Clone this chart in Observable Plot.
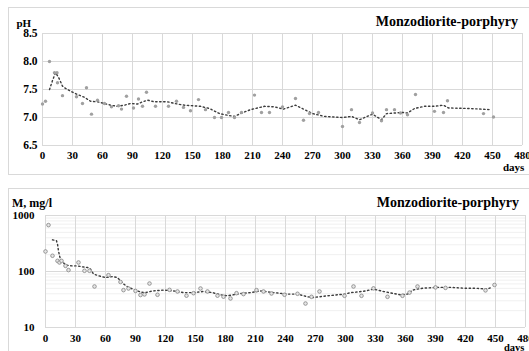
<!DOCTYPE html>
<html>
<head>
<meta charset="utf-8">
<script src="https://cdn.jsdelivr.net/npm/d3@7"></script>
<script src="https://cdn.jsdelivr.net/npm/@observablehq/plot@0.6"></script>
<style>
  html, body { margin: 0; padding: 0; background: #fff; }
  #wrap { position: relative; width: 529px; height: 351px; overflow: hidden; background: #fff; }
  .box { position: absolute; border: 1px solid #d9d9d9; box-sizing: border-box; }
  #wrap svg { position: absolute; left: 0; }
</style>
</head>
<body>
<div id="wrap">
  <div class="box" style="left:8px; top:7px; width:540px; height:168px;"></div>
  <div class="box" style="left:8px; top:188px; width:540px; height:200px;"></div>
</div>
<script>
// ---- data ----
const xTicks = [0, 30, 60, 90, 120, 150, 180, 210, 240, 270, 300, 330, 360, 390, 420, 450, 480];
const phTicks = [6.5, 7.0, 7.5, 8.0, 8.5];
const mTicks = [10, 100, 1000];
const mMinorTicks = [20, 30, 40, 50, 60, 70, 80, 90, 200, 300, 400, 500, 600, 700, 800, 900];

const phDays = [0, 3, 7, 12, 14.5, 15, 20, 34, 40, 44, 49, 55, 62, 69, 76, 79, 84, 91, 96, 100, 104, 113, 126, 134, 141, 148, 156, 163, 172, 179, 186, 192, 199, 212, 219, 227, 240, 253, 261, 267, 276, 300, 309, 317, 330, 339, 344, 352, 358, 365, 373, 392, 401, 405, 441, 451];
const phValues = [7.24, 7.29, 8.0, 7.8, 7.8, 7.62, 7.39, 7.37, 7.25, 7.53, 7.06, 7.31, 7.25, 7.19, 7.21, 7.15, 7.38, 7.17, 7.33, 7.2, 7.45, 7.2, 7.2, 7.29, 7.18, 7.12, 7.32, 7.14, 7.0, 7.0, 7.09, 7.0, 7.09, 7.4, 7.09, 7.09, 7.19, 7.34, 6.95, 7.07, 7.09, 6.84, 7.14, 6.91, 7.08, 6.94, 7.14, 7.14, 7.08, 7.05, 7.41, 7.11, 7.09, 7.3, 7.07, 7.01];

const phTrendDays = [7, 10, 13, 16, 20, 23, 28, 35, 42, 48, 55, 62, 68, 75, 82, 88, 95, 100, 105, 112, 125, 135, 142, 158, 167, 177, 185, 192, 198, 208, 222, 232, 241, 253, 261, 270, 282, 300, 309, 317, 330, 339, 344, 352, 360, 365, 372, 382, 392, 401, 406, 428, 448];
const phTrendValues = [7.5, 7.66, 7.8, 7.72, 7.56, 7.52, 7.47, 7.41, 7.36, 7.29, 7.28, 7.25, 7.22, 7.2, 7.22, 7.25, 7.24, 7.28, 7.31, 7.28, 7.28, 7.24, 7.22, 7.2, 7.16, 7.07, 7.04, 7.02, 7.07, 7.14, 7.2, 7.19, 7.15, 7.22, 7.15, 7.07, 7.02, 7.0, 7.02, 6.96, 7.06, 6.96, 7.07, 7.08, 7.09, 7.08, 7.16, 7.2, 7.2, 7.22, 7.17, 7.16, 7.14];

const mDays = [0, 3, 7, 12, 14, 16, 20, 23, 33, 39, 44, 49, 63, 75, 78, 83, 90, 95, 99, 104, 112, 124, 132, 141, 148, 155, 162, 172, 178, 185, 191, 198, 211, 218, 226, 239, 252, 260, 266, 274, 299, 308, 316, 328, 342, 357, 364, 372, 390, 400, 440, 449];
const mValues = [228, 674, 191, 155, 145, 155, 126, 106, 145, 103, 103, 54, 86, 65, 46.5, 49.7, 45, 38, 39, 61, 38.4, 47, 44, 37, 41, 49.7, 44, 37, 35.5, 33, 41, 39.5, 46.5, 44, 40.5, 38.4, 40, 26.8, 35.3, 44, 36.8, 54, 36.8, 50, 35.3, 36.8, 42, 54, 52, 51, 46, 57.5];

const mTrendDays = [7, 11, 12, 13, 14, 15, 20, 27, 32, 37, 42, 45, 48, 53, 60, 67, 72, 75, 78, 83, 90, 95, 100, 107, 118, 128, 138, 148, 158, 167, 175, 182, 188, 195, 205, 215, 228, 242, 252, 262, 268, 282, 292, 300, 305, 312, 320, 328, 338, 348, 355, 362, 367, 372, 378, 392, 405, 418, 432, 442, 447];
const mTrendValues = [368, 355, 308, 233, 191, 166, 130, 126, 126, 121, 118, 110, 90, 84, 78, 81, 78, 68, 60, 52, 46.5, 43, 42, 45, 46.5, 45, 42, 42, 44, 42, 38.4, 36.8, 38.4, 40.5, 42, 45, 42, 39.5, 39.5, 35.3, 34.4, 36.8, 38.4, 39.5, 42, 43, 45, 48.5, 44, 40.5, 38.4, 39.5, 46.5, 48.5, 50.4, 52, 52, 50.4, 50, 48.5, 53];

// ---- tables ----
const ph = phDays.map((d, i) => ({day: d, v: phValues[i]}));
const phTrend = phTrendDays.map((d, i) => ({day: d, v: phTrendValues[i]}));
const m = mDays.map((d, i) => ({day: d, v: mValues[i]}));
const mTrend = mTrendDays.map((d, i) => ({day: d, v: mTrendValues[i]}));

const FONT = "'Liberation Serif', 'Times New Roman', serif";
const GRID = "#d9d9d9";
const baseStyle = {fontFamily: FONT, fontSize: "11px", fontWeight: "bold", color: "#000", background: "transparent", overflow: "visible"};
const DOTTED = {stroke: "#3c3c3c", strokeWidth: 1.4, strokeDasharray: "1.4,2.6", curve: "linear"};

const wrap = document.getElementById("wrap");

function addText(svg, x, y, str, size, anchor) {
  d3.select(svg).append("text")
    .attr("x", x).attr("y", y)
    .attr("text-anchor", anchor)
    .attr("font-size", size).attr("font-weight", "bold").attr("font-family", FONT)
    .attr("fill", "#000")
    .text(str);
}

// ---- top: pH ----
const phChart = Plot.plot({
  width: 529, height: 174,
  marginLeft: 42, marginRight: 7, marginTop: 33, marginBottom: 29,
  style: baseStyle,
  x: {domain: [0, 480]},
  y: {domain: [6.5, 8.5]},
  marks: [
    Plot.gridX(xTicks, {stroke: GRID, strokeOpacity: 1}),
    Plot.gridY(phTicks, {stroke: GRID, strokeOpacity: 1}),
    Plot.axisX(xTicks, {tickSize: 0, tickPadding: 6, label: null, fill: "#000"}),
    Plot.axisY(phTicks, {tickSize: 0, tickPadding: 5, label: null, tickFormat: d3.format(".1f"), fill: "#000", fontSize: 11.5}),
    Plot.line(phTrend, {x: "day", y: "v", ...DOTTED}),
    Plot.dot(ph, {x: "day", y: "v", r: 1.7, fill: "#a0a0a0", stroke: "none"})
  ]
});
phChart.style.top = "0px";
wrap.appendChild(phChart);
addText(phChart, 16.5, 27, "pH", 11, "start");
addText(phChart, 518, 26, "Monzodiorite-porphyry", 14, "end");
addText(phChart, 503, 171, "days", 11, "start");

// ---- bottom: M ----
const mChart = Plot.plot({
  width: 529, height: 177,
  marginLeft: 45, marginRight: 4, marginTop: 41, marginBottom: 24,
  style: baseStyle,
  x: {domain: [0, 480]},
  y: {type: "log", domain: [10, 1000]},
  marks: [
    Plot.gridY(mMinorTicks, {stroke: "#f0f0f0", strokeOpacity: 1}),
    Plot.gridX(xTicks, {stroke: GRID, strokeOpacity: 1}),
    Plot.gridY(mTicks, {stroke: GRID, strokeOpacity: 1}),
    Plot.axisX(xTicks, {tickSize: 0, tickPadding: 7, label: null, fill: "#000"}),
    Plot.axisY(mTicks, {tickSize: 0, tickPadding: 11, label: null, tickFormat: d => String(d), fill: "#000"}),
    Plot.line(mTrend, {x: "day", y: "v", ...DOTTED}),
    Plot.dot(m, {x: "day", y: "v", r: 1.8, fill: "#e6e6e6", stroke: "#8c8c8c", strokeWidth: 0.9})
  ]
});
mChart.style.top = "174px";
wrap.appendChild(mChart);
addText(mChart, 12, 207 - 174, "M, mg/l", 12, "start");
addText(mChart, 519, 207 - 174, "Monzodiorite-porphyry", 14, "end");
addText(mChart, 504, 350.5 - 174, "days", 10.5, "start");
</script>
</body>
</html>
